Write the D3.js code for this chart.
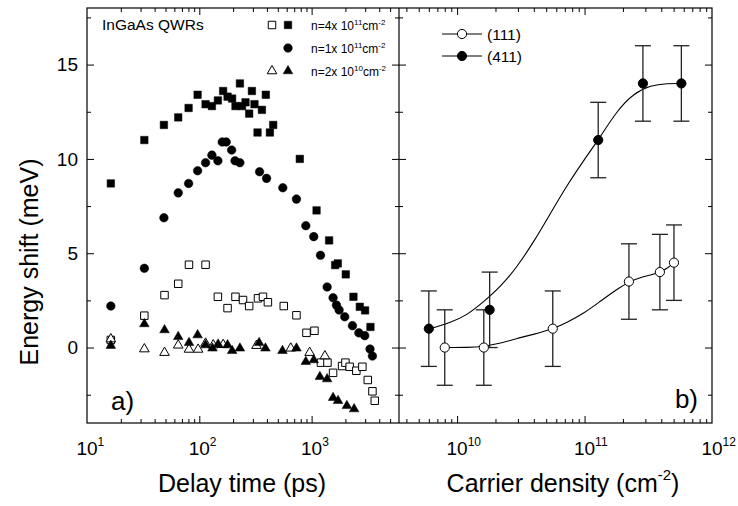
<!DOCTYPE html>
<html>
<head>
<meta charset="utf-8">
<script src="https://cdn.jsdelivr.net/npm/d3@7"></script>
<style>
  body { margin: 0; background: #fff; }
  svg { display: block; font-family: "Liberation Sans", Arial, sans-serif; }
</style>
</head>
<body>
<div id="app"></div>
<script>
// Panel a) : energy shift vs delay time (ps), [time, shift]
const n4Solid = [[16.3,8.7],[32.4,11.0],[48.4,11.8],[64.9,12.2],[80.3,12.7],[96.6,13.4],[113.7,12.9],[129.5,12.8],[146.4,13.1],[163,13.6],[178.5,13.3],[196,13.2],[210,12.8],[230,14.0],[240,12.8],[258,13.0],[278,12.4],[294,13.6],[310,12.9],[330,11.4],[361,12.6],[391,13.4],[425,11.4],[455,11.8],[785,10.0],[1107,7.27],[1432,5.68],[1620,4.37],[1712,4.46],[2015,3.88],[2358,2.69],[2687,2.16],[2994,1.97],[3343,1.09]];
const n4Open = [[16.3,0.4],[32.4,1.69],[49,2.78],[64.9,3.38],[80.9,4.39],[113.7,4.39],[146.4,2.69],[178.5,2.09],[210,2.69],[245,2.52],[278,2.2],[333,2.61],[369,2.69],[408,2.4],[565,2.2],[733,1.71],[900,0.78],[1060,0.89],[1210,-0.8],[1384,-0.8],[1553,-1.34],[1868,-0.98],[2000,-0.8],[2182,-1.02],[2502,-1.23],[2832,-1.02],[3165,-1.72],[3480,-2.32],[3650,-2.82]];
const n1Solid = [[16.3,2.2],[32.4,4.2],[48.4,6.88],[64.9,8.2],[80.3,8.7],[96.6,9.37],[113.7,9.8],[129.5,10.2],[146.4,9.9],[160,10.9],[173.6,10.9],[194,10.47],[208,9.9],[229.7,9.8],[344,9.32],[397,8.97],[554,8.47],[733,7.87],[888,6.46],[1045,5.88],[1200,4.89],[1375,3.21],[1553,2.64],[1664,2.25],[1757,1.99],[1973,1.63],[2310,1.16],[2632,0.78],[2972,0.63],[3311,-0.08],[3480,-0.45]];
const n2Open = [[16.3,0.45],[32.4,-0.08],[49,-0.27],[64.9,0.12],[81,-0.1],[97.6,-0.1],[113.7,0.22],[133,0.13],[163,0.15],[323,0.1],[652,-0.04],[960,-0.27],[1313,-0.45]];
const n2Solid = [[16.3,0.1],[32.4,1.25],[49,0.93],[64.9,0.57],[81,0.25],[96.6,0.66],[113.7,0.13],[131,-0.04],[147,0.17],[178.5,0.13],[196,-0.17],[230,-0.04],[341,0.25],[388,-0.04],[550,-0.17],[733,-0.04],[888,-0.75],[1045,-0.66],[1185,-1.55],[1375,-1.67],[1553,-2.66],[1718,-2.82],[2060,-3.09],[2390,-3.26]];

// Panel b) : energy shift vs carrier density (cm^-2)
const density111 = [8.0e9, 1.62e10, 5.63e10, 2.23e11, 3.9e11, 5.03e11];
const shift111 = [0, 0, 1, 3.5, 4, 4.5];
const err111 = [2, 2, 2, 2, 2, 2];
const density411 = [6.0e9, 1.8e10, 1.28e11, 2.87e11, 5.75e11];
const shift411 = [1, 2, 11, 14, 14];
const err411 = [2, 2, 2, 2, 2];

// guide curves
const fit111 = [[8.0e9,0],[1.2e10,0],[1.62e10,0.05],[2.19e10,0.22],[2.96e10,0.49],[4.0e10,0.7],[5.63e10,0.98],[7.31e10,1.34],[9.89e10,1.81],[1.34e11,2.47],[1.81e11,3.1],[2.23e11,3.49],[2.75e11,3.72],[3.3e11,3.84],[3.9e11,3.99],[4.47e11,4.2],[5.03e11,4.5]];
const fit411 = [[6.0e9,0.98],[8.86e9,1.32],[1.2e10,1.72],[1.62e10,2.43],[2.19e10,3.22],[2.96e10,4.28],[4.0e10,5.61],[5.41e10,7.12],[7.31e10,8.62],[9.89e10,9.94],[1.28e11,11.0],[1.81e11,12.59],[2.44e11,13.48],[3.3e11,13.9],[4.47e11,14.0],[5.75e11,14.0]];

const yTicks = [0, 5, 10, 15];
const yMinor = [-2.5, 2.5, 7.5, 12.5, 17.5];
const legendA = [
  { label: "n=4x 10", sup: "11", open: "square", solid: "square" },
  { label: "n=1x 10", sup: "11", open: null, solid: "circle" },
  { label: "n=2x 10", sup: "10", open: "triangle", solid: "triangle" }
];

const W = 738, H = 506;
const mTop = 8, mBottom = 423, mLeft = 87, mMid = 399, mRight = 712;

const svg = d3.select("#app").append("svg")
  .attr("width", W).attr("height", H)
  .attr("viewBox", [0, 0, W, H]);

const xL = d3.scaleLog().domain([10, 6000]).range([mLeft, mMid]);
const xR = d3.scaleLog().domain([3.5e9, 1e12]).range([mMid, mRight]);
const y = d3.scaleLinear().domain([-4, 18]).range([mBottom, mTop]);

const isMajor = (d) => Math.abs(Math.log10(d) - Math.round(Math.log10(d))) < 1e-9;

// ticks for both panels
function xTicks(x) {
  const all = x.ticks().filter((d) => x(d) > x.range()[0] + 0.5 && x(d) < x.range()[1] - 0.5);
  const major = all.filter(isMajor), minor = all.filter((d) => !isMajor(d));
  [[d3.axisBottom, mBottom], [d3.axisTop, mTop]].forEach(([ax, yy]) => {
    svg.append("g").attr("transform", `translate(0,${yy})`)
      .call(ax(x).tickValues(minor).tickSize(-4).tickFormat(""))
      .call((g) => g.select(".domain").remove());
    svg.append("g").attr("transform", `translate(0,${yy})`)
      .call(ax(x).tickValues(major).tickSize(-7).tickFormat(""))
      .call((g) => g.select(".domain").remove());
  });
}
xTicks(xL);
xTicks(xR);

function yAxis(ax, xx) {
  svg.append("g").attr("transform", `translate(${xx},0)`)
    .call(ax(y).tickValues(yMinor).tickSize(-4).tickFormat(""))
    .call((g) => g.select(".domain").remove());
  svg.append("g").attr("transform", `translate(${xx},0)`)
    .call(ax(y).tickValues(yTicks).tickSize(-7).tickFormat(""))
    .call((g) => g.select(".domain").remove());
}
yAxis(d3.axisLeft, mLeft);
yAxis(d3.axisRight, mMid);
yAxis(d3.axisLeft, mMid);
yAxis(d3.axisRight, mRight);
svg.selectAll(".tick line").attr("stroke", "#000");

// frames
svg.append("rect").attr("x", mLeft).attr("y", mTop)
  .attr("width", mRight - mLeft).attr("height", mBottom - mTop)
  .attr("fill", "none").attr("stroke", "#000").attr("stroke-width", 1.2);
svg.append("line").attr("x1", mMid).attr("x2", mMid).attr("y1", mTop).attr("y2", mBottom)
  .attr("stroke", "#000").attr("stroke-width", 1.2);

// tick labels
svg.append("g").selectAll("text").data(yTicks).join("text")
  .attr("x", mLeft - 9).attr("y", (d) => y(d)).attr("dy", "0.35em")
  .attr("text-anchor", "end").attr("font-size", 19).text((d) => d);

function powLabels(x, vals) {
  const t = svg.append("g").selectAll("text").data(vals).join("text")
    .attr("x", (d) => x(d)).attr("y", 455).attr("font-size", 19);
  t.append("tspan").text("10");
  t.append("tspan").attr("font-size", 12).attr("dy", -9)
    .text((d) => Math.round(Math.log10(d)));
  // center "10" on the tick
  t.attr("transform", function () {
    const w = this.firstChild.getComputedTextLength();
    return `translate(${-w / 2},0)`;
  });
}
powLabels(xL, [10, 100, 1000]);
powLabels(xR, [1e10, 1e11, 1e12]);

// axis titles
svg.append("text").attr("x", 242).attr("y", 492).attr("text-anchor", "middle")
  .attr("font-size", 25).text("Delay time (ps)");
const ct = svg.append("text").attr("x", 563).attr("y", 492).attr("text-anchor", "middle")
  .attr("font-size", 25);
ct.append("tspan").text("Carrier density (cm");
ct.append("tspan").attr("font-size", 15).attr("dy", -12).text("-2");
ct.append("tspan").attr("dy", 12).text(")");
svg.append("text").attr("transform", "translate(38,262) rotate(-90)")
  .attr("text-anchor", "middle").attr("font-size", 25).text("Energy shift (meV)");

// panel labels
svg.append("text").attr("x", 111).attr("y", 410).attr("font-size", 26).text("a)");
svg.append("text").attr("x", 698).attr("y", 408).attr("text-anchor", "end")
  .attr("font-size", 26).text("b)");

// markers
const symbolType = { square: d3.symbolSquare, circle: d3.symbolCircle, triangle: d3.symbolTriangle };
const symbolSize = { square: 56, circle: 58, triangle: 40 };
function marker(g, type, filled) {
  return g.attr("d", d3.symbol(symbolType[type], symbolSize[type]))
    .attr("fill", filled ? "#000" : "#fff")
    .attr("stroke", "#000").attr("stroke-width", filled ? 0.5 : 1);
}
function scatter(data, type, filled) {
  svg.append("g").selectAll("path").data(data).join("path")
    .attr("transform", (d) => `translate(${xL(d[0])},${y(d[1])})`)
    .call((g) => marker(g, type, filled));
}
scatter(n4Open, "square", false);
scatter(n2Open, "triangle", false);
scatter(n4Solid, "square", true);
scatter(n1Solid, "circle", true);
scatter(n2Solid, "triangle", true);

// legend a)
svg.append("text").attr("x", 102).attr("y", 30).attr("font-size", 15.5).text("InGaAs QWRs");
legendA.forEach((d, i) => {
  const yy = 25 + i * 23;
  if (d.open) svg.append("path").attr("transform", `translate(272,${yy})`).call((g) => marker(g, d.open, false));
  svg.append("path").attr("transform", `translate(288,${yy})`).call((g) => marker(g, d.solid, true));
  const t = svg.append("text").attr("x", 311).attr("y", yy + 5).attr("font-size", 12);
  t.append("tspan").text(d.label);
  t.append("tspan").attr("font-size", 8).attr("dy", -5).text(d.sup);
  t.append("tspan").attr("dy", 5).text("cm");
  t.append("tspan").attr("font-size", 8).attr("dy", -5).text("-2");
});

// panel b)
const line = d3.line().x((d) => xR(d[0])).y((d) => y(d[1])).curve(d3.curveBasis);
[fit111, fit411].forEach((f) => {
  svg.append("path").datum(f).attr("d", line)
    .attr("fill", "none").attr("stroke", "#000").attr("stroke-width", 1.1);
});

function errorBars(dens, shift, err) {
  const g = svg.append("g").attr("stroke", "#222").attr("stroke-width", 1.3);
  dens.forEach((n, i) => {
    const x = xR(n);
    g.append("line").attr("x1", x).attr("x2", x)
      .attr("y1", y(shift[i] - err[i])).attr("y2", y(shift[i] + err[i]));
    [shift[i] - err[i], shift[i] + err[i]].forEach((v) => {
      g.append("line").attr("x1", x - 8).attr("x2", x + 8).attr("y1", y(v)).attr("y2", y(v));
    });
  });
}
errorBars(density111, shift111, err111);
errorBars(density411, shift411, err411);

function dots(dens, shift, filled) {
  svg.append("g").selectAll("circle").data(dens).join("circle")
    .attr("cx", (d) => xR(d)).attr("cy", (d, i) => y(shift[i])).attr("r", 4.6)
    .attr("fill", filled ? "#000" : "#fff").attr("stroke", "#000").attr("stroke-width", 1);
}
dots(density111, shift111, false);
dots(density411, shift411, true);

// legend b)
[["(111)", false], ["(411)", true]].forEach(([label, filled], i) => {
  const yy = 34 + i * 22;
  svg.append("line").attr("x1", 442).attr("x2", 482).attr("y1", yy).attr("y2", yy)
    .attr("stroke", "#000").attr("stroke-width", 1);
  svg.append("circle").attr("cx", 462).attr("cy", yy).attr("r", 4.6)
    .attr("fill", filled ? "#000" : "#fff").attr("stroke", "#000");
  svg.append("text").attr("x", 487).attr("y", yy + 6).attr("font-size", 15.5).text(label);
});
</script>
</body>
</html>
